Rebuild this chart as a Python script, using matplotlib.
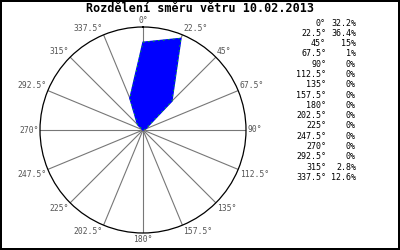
import numpy as np
import matplotlib.pyplot as plt

directions = [0, 22.5, 45, 67.5, 90, 112.5, 135, 157.5, 180, 202.5,
              225, 247.5, 270, 292.5, 315, 337.5]
labels = ["0°", "22.5°", "45°", "67.5°", "90°", "112.5°", "135°", "157.5°",
          "180°", "202.5°", "225°", "247.5°", "270°", "292.5°", "315°", "337.5°"]
percent = [32.2, 36.4, 15, 1, 0, 0, 0, 0, 0, 0, 0, 0, 0, 0, 2.8, 12.6]
percent_txt = ["32.2%", "36.4%", "15%", "1%", "0%", "0%", "0%", "0%", "0%",
               "0%", "0%", "0%", "0%", "0%", "2.8%", "12.6%"]

mono = "DejaVu Sans Mono"
rmax = 37.8

fig = plt.figure(figsize=(4, 2.5), dpi=100)
fig.patch.set_edgecolor("black")
fig.patch.set_linewidth(1.5)

# circle centre ~ (143, 131) px, radius ~103 px
ax = fig.add_axes([40 / 400, 17 / 250, 206 / 400, 206 / 250], projection="polar")
ax.set_theta_zero_location("N")
ax.set_theta_direction(-1)

theta = np.deg2rad(directions + [directions[0]])
r = percent + [percent[0]]
ax.fill(theta, r, color="#0000ff", zorder=3)
ax.plot(theta, r, color="#00cc00", lw=0.6, ls=(0, (2, 4)), zorder=4)

ax.set_ylim(0, rmax)
ax.set_yticks([])
ax.set_xticks(np.deg2rad(directions))
ax.set_xticklabels([])
ax.xaxis.grid(True, color="#777777", lw=0.8)
ax.spines["polar"].set_color("black")
ax.spines["polar"].set_linewidth(0.9)

for d, lab in zip(directions, labels):
    s, c = np.sin(np.deg2rad(d)), np.cos(np.deg2rad(d))
    ha = "left" if s > 0.01 else ("right" if s < -0.01 else "center")
    va = "bottom" if c > 0.01 else ("top" if c < -0.01 else "center")
    ax.text(np.deg2rad(d), rmax * 1.015, lab, ha=ha, va=va, fontfamily=mono,
            fontsize=5.8, color="#555555", clip_on=False)

fig.text(0.5, 0.964, "Rozdělení směru větru 10.02.2013", ha="center",
         va="center", fontfamily=mono, fontsize=8.5, fontweight="bold")

for i, (lab, pt) in enumerate(zip(labels, percent_txt)):
    y = 1 - (23 + i * 10.3) / 250
    fig.text(326 / 400, y, lab, ha="right", va="center", fontfamily=mono, fontsize=6)
    fig.text(356 / 400, y, pt, ha="right", va="center", fontfamily=mono, fontsize=6)

fig.savefig("out.png", dpi=100, edgecolor=fig.get_edgecolor())
